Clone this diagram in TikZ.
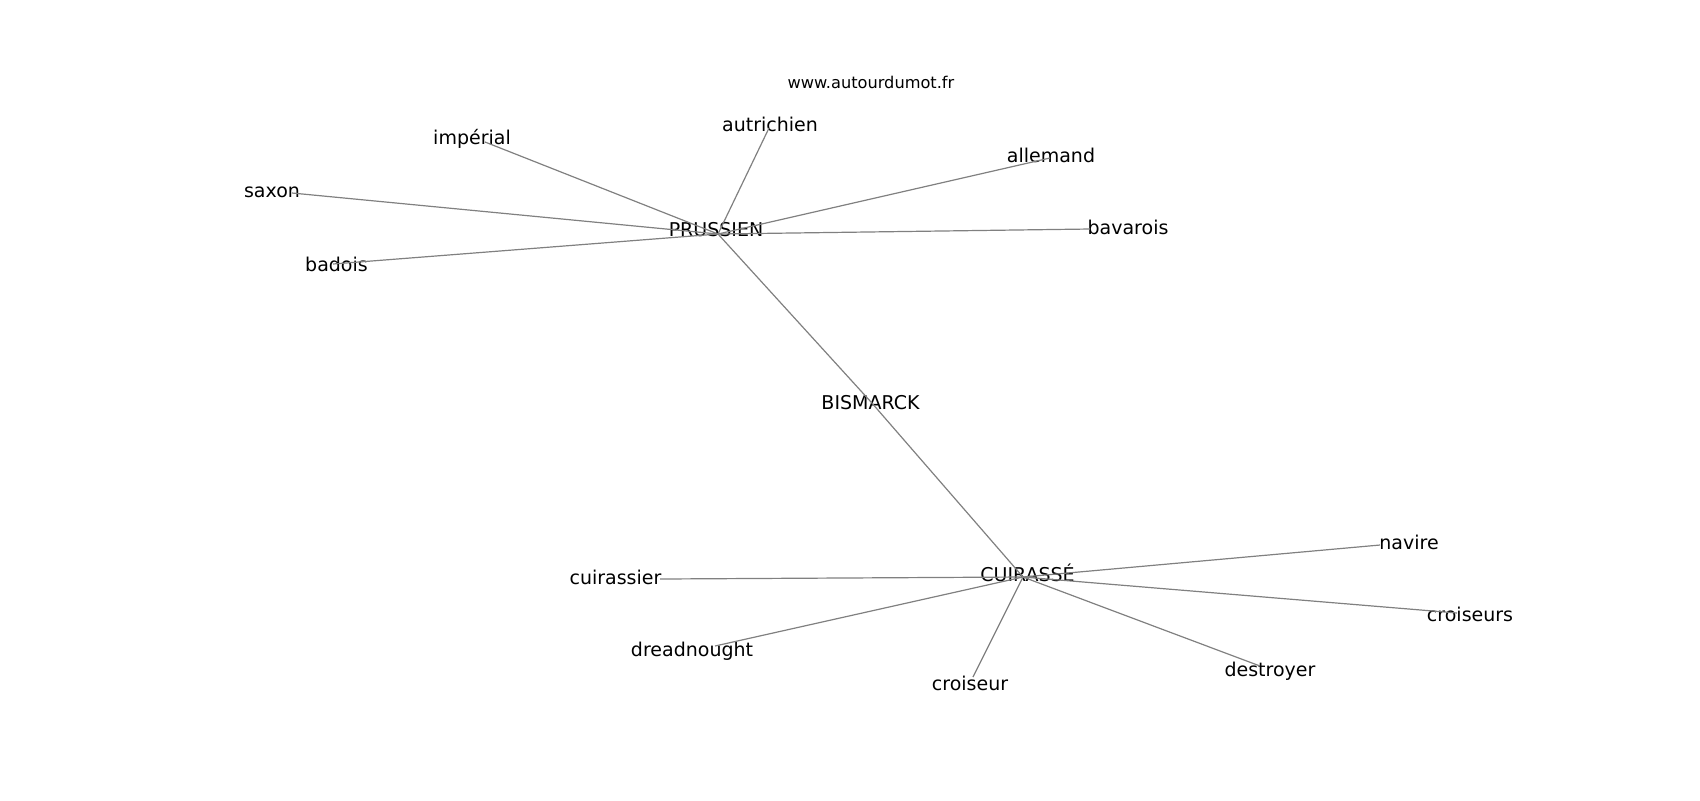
\documentclass[tikz,border=0pt]{standalone}
\usepackage{fontspec}
\setmainfont{DejaVu Sans}
\definecolor{edgegray}{HTML}{808080}
\tikzset{
  lbl/.style={anchor=base, inner sep=0pt, font=\fontsize{9.5}{11}\selectfont},
  site/.style={anchor=base, inner sep=0pt, font=\fontsize{8.1}{10}\selectfont},
  edge/.style={draw=edgegray, line width=0.6pt}
}
\begin{document}
\begin{tikzpicture}[x=0.5pt, y=-0.5pt]
\useasboundingbox (0,0) rectangle (1700,800);
% node points
\coordinate (prussien) at (718,234);
\coordinate (autrichien) at (769,128);
\coordinate (imperial) at (485,142);
\coordinate (allemand) at (1050,158);
\coordinate (saxon) at (292,193);
\coordinate (bavarois) at (1090,229);
\coordinate (badois) at (333,264);
\coordinate (bismarck) at (871,402);
\coordinate (cuirasse) at (1023,577);
\coordinate (cuirassier) at (660,579);
\coordinate (dreadnought) at (715,646);
\coordinate (croiseur) at (973,677);
\coordinate (destroyer) at (1260,666);
\coordinate (croiseurs) at (1457,613);
\coordinate (navire) at (1380,545);
% labels
\node[site] (www) at (871,88) {www.autourdumot.fr};
\node[lbl] (l-autrichien) at (770,131) {autrichien};
\node[lbl] (l-imperial) at (472,144) {impérial};
\node[lbl] (l-allemand) at (1051,162) {allemand};
\node[lbl] (l-saxon) at (272,197.5) {saxon};
\node[lbl] (l-prussien) at (716,236) {PRUSSIEN};
\node[lbl] (l-bavarois) at (1128,234) {bavarois};
\node[lbl] (l-badois) at (336.5,271) {badois};
\node[lbl] (l-bismarck) at (870.5,409) {BISMARCK};
\node[lbl] (l-navire) at (1409,549) {navire};
\node[lbl] (l-cuirassier) at (615.5,584) {cuirassier};
\node[lbl] (l-cuirasse) at (1027.5,581.5) {CUIRASSÉ};
\node[lbl] (l-croiseurs) at (1470,621.5) {croiseurs};
\node[lbl] (l-dreadnought) at (692,656.5) {dreadnought};
\node[lbl] (l-destroyer) at (1270,676) {destroyer};
\node[lbl] (l-croiseur) at (970,690) {croiseur};
% edges
\foreach \t in {autrichien,imperial,allemand,saxon,bavarois,badois,bismarck}
  \draw[edge] (prussien) -- (\t);
\foreach \t in {bismarck,cuirassier,dreadnought,croiseur,destroyer,croiseurs,navire}
  \draw[edge] (cuirasse) -- (\t);
\end{tikzpicture}
\end{document}
